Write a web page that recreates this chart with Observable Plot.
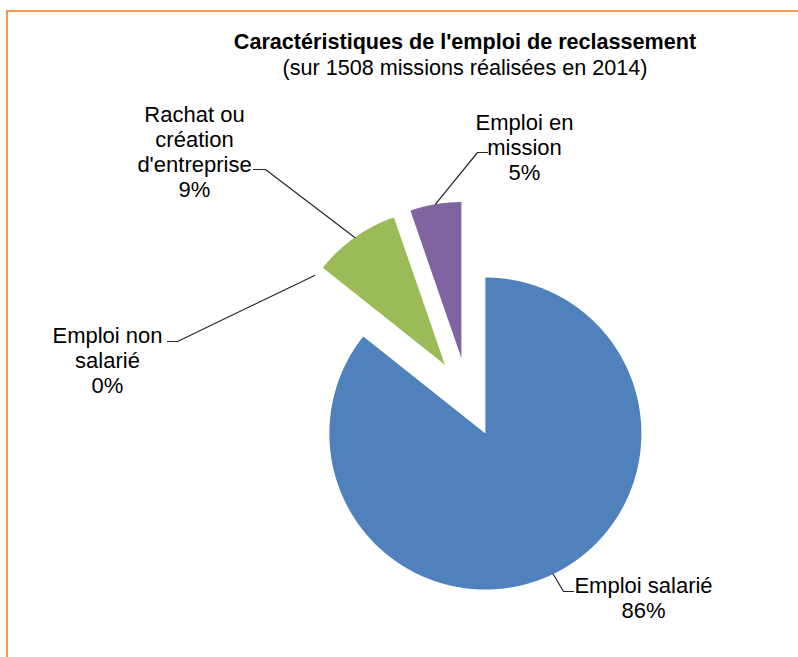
<!DOCTYPE html>
<html>
<head>
<meta charset="utf-8">
<script src="https://cdn.jsdelivr.net/npm/d3@7"></script>
<script src="https://cdn.jsdelivr.net/npm/@observablehq/plot@0.6"></script>
<style>
  html, body { margin: 0; padding: 0; background: #fff; overflow: hidden; }
  #wrap { position: relative; width: 798px; height: 657px; font-family: "Liberation Sans", Arial, sans-serif; }
  #frame { position: absolute; left: 6px; top: 10px; width: 900px; height: 800px; border: 2px solid #F79646; box-sizing: border-box; }
  .ttl { position: absolute; left: 65px; width: 800px; text-align: center; white-space: nowrap; color: #000; }
  #title { top: 29px; font-size: 21.6px; font-weight: bold; }
  #subtitle { top: 55px; font-size: 21.6px; }
  #chart { position: absolute; left: 0; top: 0; }
</style>
</head>
<body>
<div id="wrap">
  <div id="frame"></div>
  <div id="chart"></div>
  <div class="ttl" id="title">Caractéristiques de l'emploi de reclassement</div>
  <div class="ttl" id="subtitle">(sur 1508 missions réalisées en 2014)</div>
</div>
<script>
// ---- data ----
const categories = ["Emploi salarié", "Emploi non salarié", "Rachat ou création d'entreprise", "Emploi en mission"];
const labelTexts = ["Emploi salarié", "Emploi non\nsalarié", "Rachat ou\ncréation\nd'entreprise", "Emploi en\nmission"];
const shares = [85.7, 0, 9.0, 5.3]; // percent of missions
const colors = ["#4F81BD", "#C0504D", "#9BBB59", "#8064A2"];

// ---- layout ----
const W = 798, H = 657;
const center = {x: 467.5, y: 397};
const radius = 156;
const explode = 40;
const fontSize = 22;
// label block anchor (center x, top of first line) per slice
const labelAnchor = [[643, 574.4], [107, 325.1], [194, 103.4], [524, 111.7]];
// label-side end of leader line, and horizontal elbow length
const leaderEnd = [[573, 591], [167, 341], [253, 169], [487, 152]];
const elbowDx = [-10, 10, 12, -10];

const arcs = d3.pie().sort(null).value(d => d)(shares);
const pt = (cx, cy, r, a) => [cx + r * Math.sin(a), cy - r * Math.cos(a)];

// wedge outlines
const wedgePts = [];
arcs.forEach((a, i) => {
  if (a.endAngle - a.startAngle <= 0) return;
  const mid = (a.startAngle + a.endAngle) / 2;
  const [ax, ay] = pt(center.x, center.y, explode, mid);
  wedgePts.push({k: categories[i], c: colors[i], x: ax, y: ay});
  const n = Math.max(2, Math.ceil((a.endAngle - a.startAngle) / (Math.PI / 720)));
  for (let j = 0; j <= n; j++) {
    const t = a.startAngle + (a.endAngle - a.startAngle) * j / n;
    const [x, y] = pt(ax, ay, radius, t);
    wedgePts.push({k: categories[i], c: colors[i], x, y});
  }
});

// leader lines
const leaderPts = [];
arcs.forEach((a, i) => {
  const mid = (a.startAngle + a.endAngle) / 2;
  const [sx, sy] = pt(center.x, center.y, explode + radius, mid);
  const [ex, ey] = leaderEnd[i];
  leaderPts.push({k: categories[i], x: sx, y: sy});
  leaderPts.push({k: categories[i], x: ex + elbowDx[i], y: ey});
  leaderPts.push({k: categories[i], x: ex, y: ey});
});

const labels = arcs.map((a, i) => ({
  x: labelAnchor[i][0], y: labelAnchor[i][1],
  text: `${labelTexts[i]}\n${Math.round(shares[i])}%`
}));

const chart = Plot.plot({
  width: W, height: H, margin: 0,
  style: {background: "transparent", fontFamily: "'Liberation Sans', Arial, sans-serif"},
  x: {domain: [0, W], range: [0, W], axis: null},
  y: {domain: [0, H], range: [0, H], axis: null},
  color: {type: "identity"},
  marks: [
    Plot.line(wedgePts, {x: "x", y: "y", z: "k", fill: "c", stroke: "none", curve: "linear"}),
    Plot.line(leaderPts, {x: "x", y: "y", z: "k", stroke: "#262626", strokeWidth: 1.2}),
    Plot.text(labels, {x: "x", y: "y", text: "text", lineAnchor: "top", lineHeight: 25 / fontSize,
      fontSize: fontSize, fill: "#000", textAnchor: "middle"})
  ]
});
document.getElementById("chart").appendChild(chart);
</script>
</body>
</html>
